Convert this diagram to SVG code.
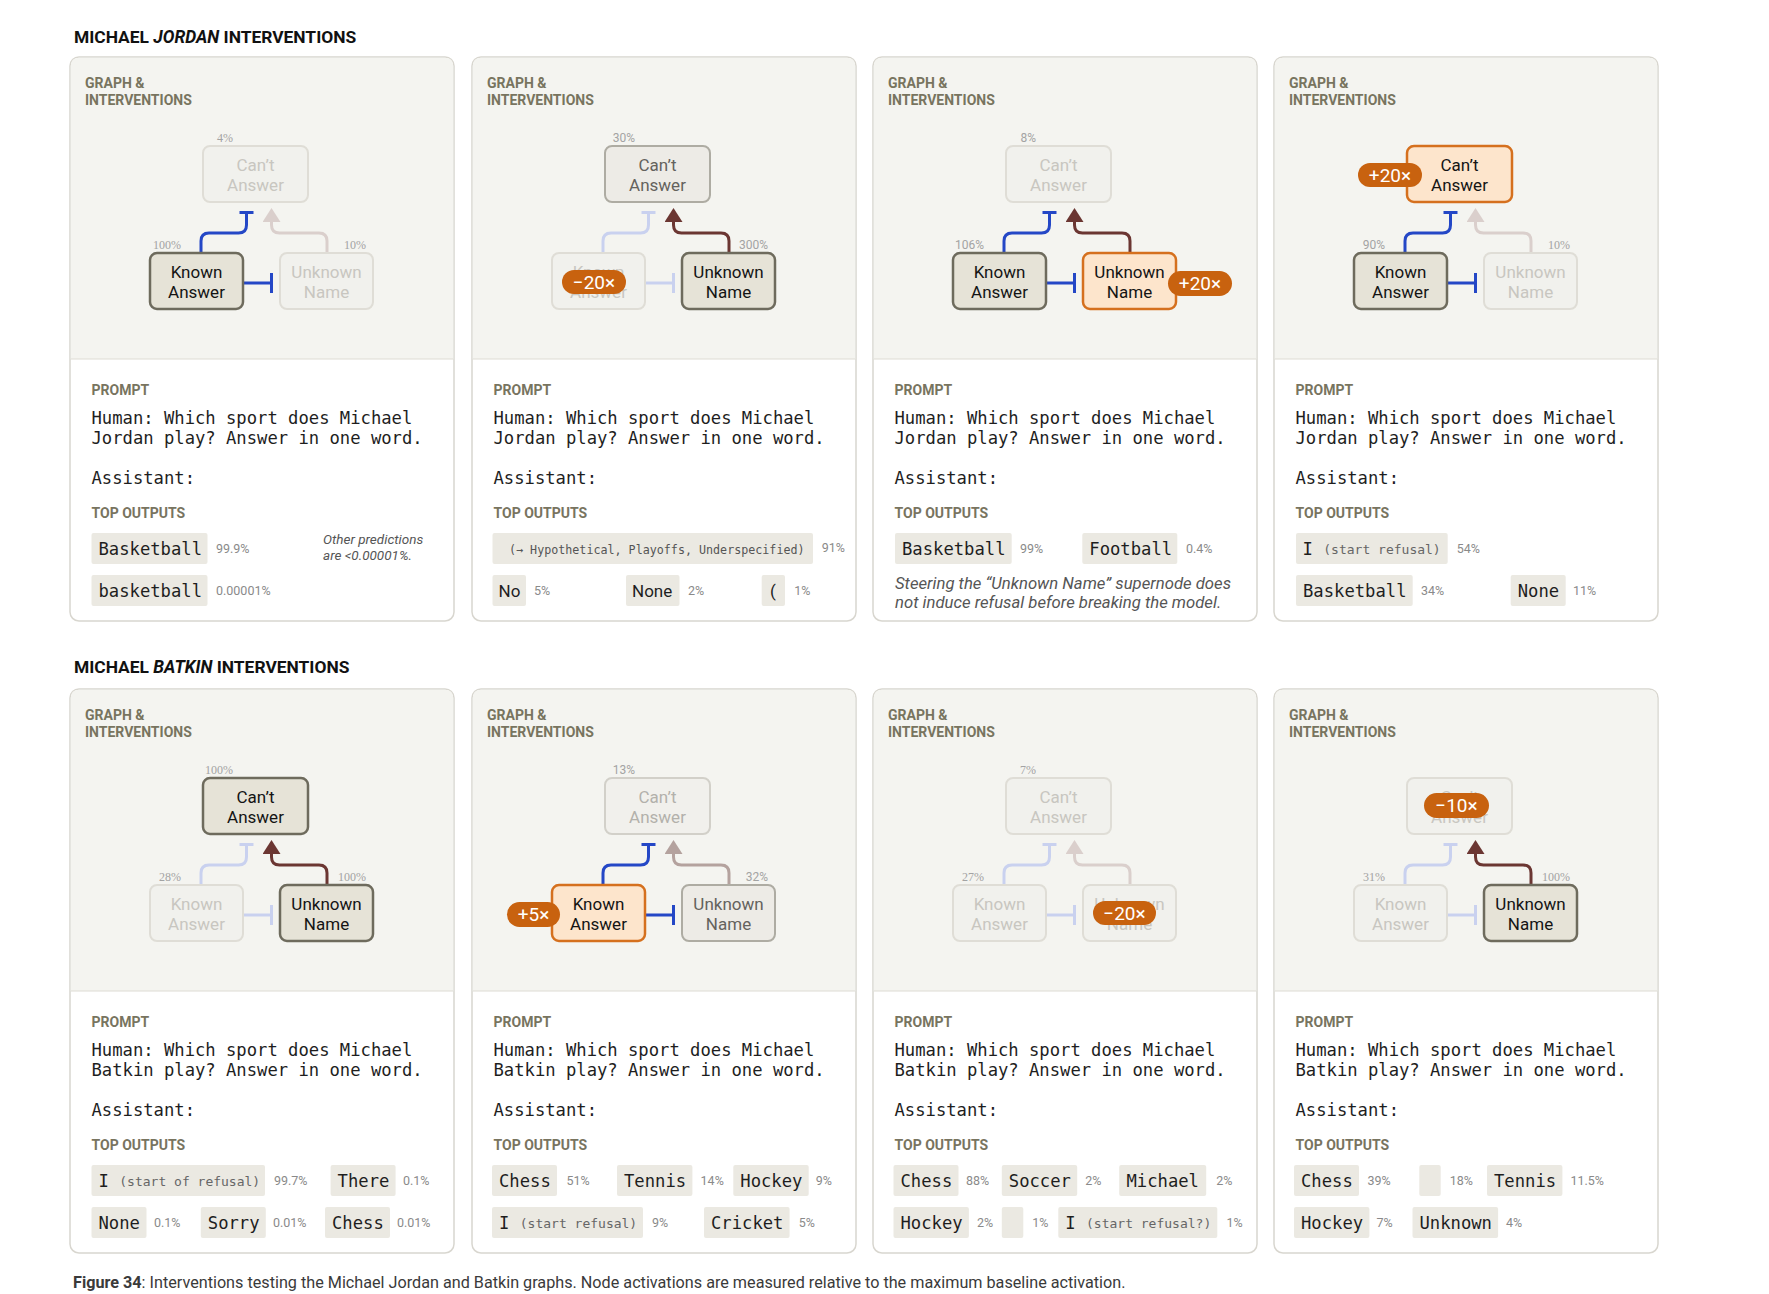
<svg xmlns="http://www.w3.org/2000/svg" width="1769" height="1294" viewBox="0 0 1769 1294">
<defs>
<style>
.title{font:700 17.4px Roboto,"Liberation Sans",sans-serif;fill:#111}
.cap{font:16.2px Roboto,"Liberation Sans",sans-serif;fill:#3a3a3a}
.card{fill:#fff;stroke:#d8d6cf;stroke-width:1.5}
.gbg{fill:#f4f4f0}
.dv{stroke:#dddbd4;stroke-width:1.2}
.hd{font:700 14px Roboto,"Liberation Sans",sans-serif;fill:#78745f}
.mono{font:17.2px "DejaVu Sans Mono","Liberation Mono",monospace;fill:#1e1e1e}
.sans{font:17px Roboto,"Liberation Sans",sans-serif;fill:#1e1e1e}
.sm{font:13px "DejaVu Sans Mono","Liberation Mono",monospace;fill:#666}
.xs{font:11.7px "DejaVu Sans Mono","Liberation Mono",monospace;fill:#555}
.chip{fill:#ebe9e2}
.pr{font:12.5px Roboto,"Liberation Sans",sans-serif;fill:#8a8a8a}
.note{font:italic 13.5px Roboto,"Liberation Sans",sans-serif;fill:#555}
.note2{font:italic 16.7px Roboto,"Liberation Sans",sans-serif;fill:#555}
.nt{font:17px Roboto,"Liberation Sans",sans-serif;text-anchor:middle}
.act rect{fill:#e6e3d7;stroke:#6e6b5d;stroke-width:2.5}
.act text{fill:#141414}
.fade rect{fill:#f1f1ed;stroke:#dfddd6;stroke-width:2}
.fade text{fill:#c8c6c0}
.mid rect{fill:#edebe6;stroke:#aeaca3;stroke-width:2}
.mid text{fill:#64625d}
.lite rect{fill:#f1f0ec;stroke:#d2d0c9;stroke-width:2}
.lite text{fill:#b3b1ab}
.or rect{fill:#fde5cc;stroke:#d5701e;stroke-width:2.5}
.or text{fill:#141414}
.badge rect{fill:#c8620f}
.badge text{font:19px Roboto,"Liberation Sans",sans-serif;fill:#fff;text-anchor:middle}
.pl{font:12px "Liberation Serif",serif;fill:#a3a3a3}
.ps{font:12px Roboto,"Liberation Sans",sans-serif;fill:#a3a3a3}
.e{fill:none;stroke-width:3}
.ba{stroke:#2447c6}
.bf{stroke:#c9d1ef}
.ra{stroke:#6b3632}
.rf{stroke:#dacfcc}
.rm{stroke:#b4a29e}
</style>
<marker id="ah-a" viewBox="0 -9 14 18" refX="0" refY="0" markerWidth="14" markerHeight="18" markerUnits="userSpaceOnUse" orient="auto"><path d="M0,-9L14,0L0,9Z" fill="#6b3632"/></marker>
<marker id="ah-f" viewBox="0 -9 14 18" refX="0" refY="0" markerWidth="14" markerHeight="18" markerUnits="userSpaceOnUse" orient="auto"><path d="M0,-9L14,0L0,9Z" fill="#dacfcc"/></marker>
<marker id="ah-m" viewBox="0 -9 14 18" refX="0" refY="0" markerWidth="14" markerHeight="18" markerUnits="userSpaceOnUse" orient="auto"><path d="M0,-9L14,0L0,9Z" fill="#b4a29e"/></marker>
</defs>
<rect width="1769" height="1294" fill="#fff"/>

<text class="title" x="74" y="43">MICHAEL <tspan font-style="italic">JORDAN</tspan> INTERVENTIONS</text>
<text class="title" x="74" y="673">MICHAEL <tspan font-style="italic">BATKIN</tspan> INTERVENTIONS</text>

<g id="cards">
<!-- J1 -->
<g transform="translate(70,57)">
<rect class="card" x="0" y="0" width="384" height="564" rx="9"/>
<path class="gbg" d="M0.75,302V9Q0.75,0.75 9,0.75H375Q383.25,0.75 383.25,9V302Z"/>
<line class="dv" x1="0.75" y1="302" x2="383.25" y2="302"/>
<text class="hd" x="15" y="30.7">GRAPH &amp;</text><text class="hd" x="15" y="48">INTERVENTIONS</text>
<text class="hd" x="21.5" y="338">PROMPT</text>
<text class="mono" x="21.5" y="367">Human: Which sport does Michael</text>
<text class="mono" x="21.5" y="386.5">Jordan play? Answer in one word.</text>
<text class="mono" x="21.5" y="426.5">Assistant:</text>
<text class="hd" x="21.5" y="461.3">TOP OUTPUTS</text>
<rect class="chip" x="21.5" y="476" width="116" height="31" rx="2"/><text class="mono" x="28.5" y="498">Basketball</text><text class="pr" x="146" y="495.5">99.9%</text>
<text class="note" x="253" y="487">Other predictions</text><text class="note" x="253" y="502.5">are &lt;0.00001%.</text>
<rect class="chip" x="21.5" y="518" width="116" height="31" rx="2"/><text class="mono" x="28.5" y="540">basketball</text><text class="pr" x="146" y="537.5">0.00001%</text>
</g>
<!-- J2 -->
<g transform="translate(472,57)">
<rect class="card" x="0" y="0" width="384" height="564" rx="9"/>
<path class="gbg" d="M0.75,302V9Q0.75,0.75 9,0.75H375Q383.25,0.75 383.25,9V302Z"/>
<line class="dv" x1="0.75" y1="302" x2="383.25" y2="302"/>
<text class="hd" x="15" y="30.7">GRAPH &amp;</text><text class="hd" x="15" y="48">INTERVENTIONS</text>
<text class="hd" x="21.5" y="338">PROMPT</text>
<text class="mono" x="21.5" y="367">Human: Which sport does Michael</text>
<text class="mono" x="21.5" y="386.5">Jordan play? Answer in one word.</text>
<text class="mono" x="21.5" y="426.5">Assistant:</text>
<text class="hd" x="21.5" y="461.3">TOP OUTPUTS</text>
<rect class="chip" x="20.5" y="476" width="320.5" height="31" rx="2"/><text class="xs" x="37" y="497">(→ Hypothetical, Playoffs, Underspecified)</text><text class="pr" x="349.7" y="494.7">91%</text>
<rect class="chip" x="20.5" y="518" width="33.5" height="31" rx="2"/><text class="sans" x="26.5" y="540">No</text><text class="pr" x="62" y="537.5">5%</text>
<rect class="chip" x="154" y="518" width="53.5" height="31" rx="2"/><text class="sans" x="160" y="540">None</text><text class="pr" x="216" y="537.5">2%</text>
<rect class="chip" x="289.7" y="518" width="23.3" height="31" rx="2"/><text class="sans" x="298" y="540">(</text><text class="pr" x="322.3" y="537.5">1%</text>
</g>
<!-- J3 -->
<g transform="translate(873,57)">
<rect class="card" x="0" y="0" width="384" height="564" rx="9"/>
<path class="gbg" d="M0.75,302V9Q0.75,0.75 9,0.75H375Q383.25,0.75 383.25,9V302Z"/>
<line class="dv" x1="0.75" y1="302" x2="383.25" y2="302"/>
<text class="hd" x="15" y="30.7">GRAPH &amp;</text><text class="hd" x="15" y="48">INTERVENTIONS</text>
<text class="hd" x="21.5" y="338">PROMPT</text>
<text class="mono" x="21.5" y="367">Human: Which sport does Michael</text>
<text class="mono" x="21.5" y="386.5">Jordan play? Answer in one word.</text>
<text class="mono" x="21.5" y="426.5">Assistant:</text>
<text class="hd" x="21.5" y="461.3">TOP OUTPUTS</text>
<rect class="chip" x="22" y="476" width="116.7" height="31" rx="2"/><text class="mono" x="29" y="498">Basketball</text><text class="pr" x="147" y="495.5">99%</text>
<rect class="chip" x="209.3" y="476" width="95" height="31" rx="2"/><text class="mono" x="216.3" y="498">Football</text><text class="pr" x="313" y="495.5">0.4%</text>
<text class="note2" x="22" y="531.5">Steering the “Unknown Name” supernode does</text>
<text class="note2" x="22" y="550.5">not induce refusal before breaking the model.</text>
</g>
<!-- J4 -->
<g transform="translate(1274,57)">
<rect class="card" x="0" y="0" width="384" height="564" rx="9"/>
<path class="gbg" d="M0.75,302V9Q0.75,0.75 9,0.75H375Q383.25,0.75 383.25,9V302Z"/>
<line class="dv" x1="0.75" y1="302" x2="383.25" y2="302"/>
<text class="hd" x="15" y="30.7">GRAPH &amp;</text><text class="hd" x="15" y="48">INTERVENTIONS</text>
<text class="hd" x="21.5" y="338">PROMPT</text>
<text class="mono" x="21.5" y="367">Human: Which sport does Michael</text>
<text class="mono" x="21.5" y="386.5">Jordan play? Answer in one word.</text>
<text class="mono" x="21.5" y="426.5">Assistant:</text>
<text class="hd" x="21.5" y="461.3">TOP OUTPUTS</text>
<rect class="chip" x="22" y="476" width="151.7" height="31" rx="2"/><text class="mono" x="28.5" y="498">I</text><text class="sm" x="49.3" y="497">(start refusal)</text><text class="pr" x="182.7" y="495.5">54%</text>
<rect class="chip" x="22" y="518" width="116.7" height="31" rx="2"/><text class="mono" x="29" y="540">Basketball</text><text class="pr" x="147" y="537.5">34%</text>
<rect class="chip" x="236.7" y="518" width="55" height="31" rx="2"/><text class="mono" x="243.7" y="540">None</text><text class="pr" x="299" y="537.5">11%</text>
</g>
<!-- B1 -->
<g transform="translate(70,689)">
<rect class="card" x="0" y="0" width="384" height="564" rx="9"/>
<path class="gbg" d="M0.75,302V9Q0.75,0.75 9,0.75H375Q383.25,0.75 383.25,9V302Z"/>
<line class="dv" x1="0.75" y1="302" x2="383.25" y2="302"/>
<text class="hd" x="15" y="30.7">GRAPH &amp;</text><text class="hd" x="15" y="48">INTERVENTIONS</text>
<text class="hd" x="21.5" y="338">PROMPT</text>
<text class="mono" x="21.5" y="367">Human: Which sport does Michael</text>
<text class="mono" x="21.5" y="386.5">Batkin play? Answer in one word.</text>
<text class="mono" x="21.5" y="426.5">Assistant:</text>
<text class="hd" x="21.5" y="461.3">TOP OUTPUTS</text>
<rect class="chip" x="21.5" y="476" width="173.5" height="31" rx="2"/><text class="mono" x="28.5" y="498">I</text><text class="sm" x="49.3" y="497">(start of refusal)</text><text class="pr" x="204" y="495.5">99.7%</text>
<rect class="chip" x="260.6" y="476" width="65" height="31" rx="2"/><text class="mono" x="267.6" y="498">There</text><text class="pr" x="333" y="495.5">0.1%</text>
<rect class="chip" x="21.5" y="518" width="55" height="31" rx="2"/><text class="mono" x="28.5" y="540">None</text><text class="pr" x="84" y="537.5">0.1%</text>
<rect class="chip" x="130.8" y="518" width="65" height="31" rx="2"/><text class="mono" x="137.8" y="540">Sorry</text><text class="pr" x="203" y="537.5">0.01%</text>
<rect class="chip" x="255" y="518" width="65" height="31" rx="2"/><text class="mono" x="262" y="540">Chess</text><text class="pr" x="327" y="537.5">0.01%</text>
</g>
<!-- B2 -->
<g transform="translate(472,689)">
<rect class="card" x="0" y="0" width="384" height="564" rx="9"/>
<path class="gbg" d="M0.75,302V9Q0.75,0.75 9,0.75H375Q383.25,0.75 383.25,9V302Z"/>
<line class="dv" x1="0.75" y1="302" x2="383.25" y2="302"/>
<text class="hd" x="15" y="30.7">GRAPH &amp;</text><text class="hd" x="15" y="48">INTERVENTIONS</text>
<text class="hd" x="21.5" y="338">PROMPT</text>
<text class="mono" x="21.5" y="367">Human: Which sport does Michael</text>
<text class="mono" x="21.5" y="386.5">Batkin play? Answer in one word.</text>
<text class="mono" x="21.5" y="426.5">Assistant:</text>
<text class="hd" x="21.5" y="461.3">TOP OUTPUTS</text>
<rect class="chip" x="20" y="476" width="65" height="31" rx="2"/><text class="mono" x="27" y="498">Chess</text><text class="pr" x="94.4" y="495.5">51%</text>
<rect class="chip" x="145" y="476" width="75.4" height="31" rx="2"/><text class="mono" x="152" y="498">Tennis</text><text class="pr" x="228.6" y="495.5">14%</text>
<rect class="chip" x="261.3" y="476" width="75.4" height="31" rx="2"/><text class="mono" x="268.3" y="498">Hockey</text><text class="pr" x="343.7" y="495.5">9%</text>
<rect class="chip" x="20" y="518" width="151" height="31" rx="2"/><text class="mono" x="27" y="540">I</text><text class="sm" x="47.8" y="539">(start refusal)</text><text class="pr" x="180" y="537.5">9%</text>
<rect class="chip" x="232" y="518" width="85.6" height="31" rx="2"/><text class="mono" x="239" y="540">Cricket</text><text class="pr" x="326.8" y="537.5">5%</text>
</g>
<!-- B3 -->
<g transform="translate(873,689)">
<rect class="card" x="0" y="0" width="384" height="564" rx="9"/>
<path class="gbg" d="M0.75,302V9Q0.75,0.75 9,0.75H375Q383.25,0.75 383.25,9V302Z"/>
<line class="dv" x1="0.75" y1="302" x2="383.25" y2="302"/>
<text class="hd" x="15" y="30.7">GRAPH &amp;</text><text class="hd" x="15" y="48">INTERVENTIONS</text>
<text class="hd" x="21.5" y="338">PROMPT</text>
<text class="mono" x="21.5" y="367">Human: Which sport does Michael</text>
<text class="mono" x="21.5" y="386.5">Batkin play? Answer in one word.</text>
<text class="mono" x="21.5" y="426.5">Assistant:</text>
<text class="hd" x="21.5" y="461.3">TOP OUTPUTS</text>
<rect class="chip" x="20.5" y="476" width="65" height="31" rx="2"/><text class="mono" x="27.5" y="498">Chess</text><text class="pr" x="93" y="495.5">88%</text>
<rect class="chip" x="128.8" y="476" width="75.4" height="31" rx="2"/><text class="mono" x="135.8" y="498">Soccer</text><text class="pr" x="212.3" y="495.5">2%</text>
<rect class="chip" x="246.2" y="476" width="87" height="31" rx="2"/><text class="mono" x="253.5" y="498">Michael</text><text class="pr" x="343.2" y="495.5">2%</text>
<rect class="chip" x="20.5" y="518" width="75.4" height="31" rx="2"/><text class="mono" x="27.5" y="540">Hockey</text><text class="pr" x="104" y="537.5">2%</text>
<rect class="chip" x="128.8" y="518" width="21.5" height="31" rx="2"/><text class="pr" x="159.3" y="537.5">1%</text>
<rect class="chip" x="185.3" y="518" width="159" height="31" rx="2"/><text class="mono" x="192.3" y="540">I</text><text class="sm" x="213" y="539">(start refusal?)</text><text class="pr" x="353.4" y="537.5">1%</text>
</g>
<!-- B4 -->
<g transform="translate(1274,689)">
<rect class="card" x="0" y="0" width="384" height="564" rx="9"/>
<path class="gbg" d="M0.75,302V9Q0.75,0.75 9,0.75H375Q383.25,0.75 383.25,9V302Z"/>
<line class="dv" x1="0.75" y1="302" x2="383.25" y2="302"/>
<text class="hd" x="15" y="30.7">GRAPH &amp;</text><text class="hd" x="15" y="48">INTERVENTIONS</text>
<text class="hd" x="21.5" y="338">PROMPT</text>
<text class="mono" x="21.5" y="367">Human: Which sport does Michael</text>
<text class="mono" x="21.5" y="386.5">Batkin play? Answer in one word.</text>
<text class="mono" x="21.5" y="426.5">Assistant:</text>
<text class="hd" x="21.5" y="461.3">TOP OUTPUTS</text>
<rect class="chip" x="20" y="476" width="65" height="31" rx="2"/><text class="mono" x="27" y="498">Chess</text><text class="pr" x="93.4" y="495.5">39%</text>
<rect class="chip" x="145.3" y="476" width="21.4" height="31" rx="2"/><text class="pr" x="175.7" y="495.5">18%</text>
<rect class="chip" x="213" y="476" width="75.4" height="31" rx="2"/><text class="mono" x="220" y="498">Tennis</text><text class="pr" x="296.5" y="495.5">11.5%</text>
<rect class="chip" x="20" y="518" width="75.4" height="31" rx="2"/><text class="mono" x="27" y="540">Hockey</text><text class="pr" x="102.4" y="537.5">7%</text>
<rect class="chip" x="138.5" y="518" width="85.6" height="31" rx="2"/><text class="mono" x="145.5" y="540">Unknown</text><text class="pr" x="232" y="537.5">4%</text>
</g>
</g>

<g id="connectors">
<g transform="translate(70,57)">
<path class="e ba" d="M131,196V184Q131,176 139,176H168.5Q176.5,176 176.5,168V155.5M169.5,155.5H183.5"/>
<path class="e ba" d="M173,226H201.5M201.5,216V236"/>
<path class="e rf" marker-end="url(#ah-f)" d="M257,196V184Q257,176 249,176H209.5Q201.5,176 201.5,168V165"/>
</g>
<g transform="translate(472,57)">
<path class="e bf" d="M131,196V184Q131,176 139,176H168.5Q176.5,176 176.5,168V155.5M169.5,155.5H183.5"/>
<path class="e bf" d="M173,226H201.5M201.5,216V236"/>
<path class="e ra" marker-end="url(#ah-a)" d="M257,196V184Q257,176 249,176H209.5Q201.5,176 201.5,168V165"/>
</g>
<g transform="translate(873,57)">
<path class="e ba" d="M131,196V184Q131,176 139,176H168.5Q176.5,176 176.5,168V155.5M169.5,155.5H183.5"/>
<path class="e ba" d="M173,226H201.5M201.5,216V236"/>
<path class="e ra" marker-end="url(#ah-a)" d="M257,196V184Q257,176 249,176H209.5Q201.5,176 201.5,168V165"/>
</g>
<g transform="translate(1274,57)">
<path class="e ba" d="M131,196V184Q131,176 139,176H168.5Q176.5,176 176.5,168V155.5M169.5,155.5H183.5"/>
<path class="e ba" d="M173,226H201.5M201.5,216V236"/>
<path class="e rf" marker-end="url(#ah-f)" d="M257,196V184Q257,176 249,176H209.5Q201.5,176 201.5,168V165"/>
</g>
<g transform="translate(70,689)">
<path class="e bf" d="M131,196V184Q131,176 139,176H168.5Q176.5,176 176.5,168V155.5M169.5,155.5H183.5"/>
<path class="e bf" d="M173,226H201.5M201.5,216V236"/>
<path class="e ra" marker-end="url(#ah-a)" d="M257,196V184Q257,176 249,176H209.5Q201.5,176 201.5,168V165"/>
</g>
<g transform="translate(472,689)">
<path class="e ba" d="M131,196V184Q131,176 139,176H168.5Q176.5,176 176.5,168V155.5M169.5,155.5H183.5"/>
<path class="e ba" d="M173,226H201.5M201.5,216V236"/>
<path class="e rm" marker-end="url(#ah-m)" d="M257,196V184Q257,176 249,176H209.5Q201.5,176 201.5,168V165"/>
</g>
<g transform="translate(873,689)">
<path class="e bf" d="M131,196V184Q131,176 139,176H168.5Q176.5,176 176.5,168V155.5M169.5,155.5H183.5"/>
<path class="e bf" d="M173,226H201.5M201.5,216V236"/>
<path class="e rf" marker-end="url(#ah-f)" d="M257,196V184Q257,176 249,176H209.5Q201.5,176 201.5,168V165"/>
</g>
<g transform="translate(1274,689)">
<path class="e bf" d="M131,196V184Q131,176 139,176H168.5Q176.5,176 176.5,168V155.5M169.5,155.5H183.5"/>
<path class="e bf" d="M173,226H201.5M201.5,216V236"/>
<path class="e ra" marker-end="url(#ah-a)" d="M257,196V184Q257,176 249,176H209.5Q201.5,176 201.5,168V165"/>
</g>
</g>

<g id="nodes">
<!-- J1 -->
<g transform="translate(70,57)">
<g id="j1-cant"><g class="fade"><rect x="133" y="89" width="105" height="56" rx="7"/><text class="nt"><tspan x="185.5" y="113.5">Can’t</tspan><tspan x="185.5" y="133.5">Answer</tspan></text></g><text class="pl" x="163" y="85" text-anchor="end">4%</text></g>
<g id="j1-known"><g class="act"><rect x="80" y="196" width="93" height="56" rx="7"/><text class="nt"><tspan x="126.5" y="220.5">Known</tspan><tspan x="126.5" y="240.5">Answer</tspan></text></g><text class="pl" x="111" y="192" text-anchor="end">100%</text></g>
<g id="j1-unknown"><g class="fade"><rect x="210" y="196" width="93" height="56" rx="7"/><text class="nt"><tspan x="256.5" y="220.5">Unknown</tspan><tspan x="256.5" y="240.5">Name</tspan></text></g><text class="pl" x="296" y="192" text-anchor="end">10%</text></g>
</g>
<!-- J2 -->
<g transform="translate(472,57)">
<g id="j2-cant"><g class="mid"><rect x="133" y="89" width="105" height="56" rx="7"/><text class="nt"><tspan x="185.5" y="113.5">Can’t</tspan><tspan x="185.5" y="133.5">Answer</tspan></text></g><text class="ps" x="163" y="85" text-anchor="end">30%</text></g>
<g id="j2-known"><g class="fade"><rect x="80" y="196" width="93" height="56" rx="7"/><text class="nt"><tspan x="126.5" y="220.5">Known</tspan><tspan x="126.5" y="240.5">Answer</tspan></text></g><g class="badge"><rect x="90" y="213" width="64" height="24" rx="12"/><text x="122" y="231.5">−20×</text></g></g>
<g id="j2-unknown"><g class="act"><rect x="210" y="196" width="93" height="56" rx="7"/><text class="nt"><tspan x="256.5" y="220.5">Unknown</tspan><tspan x="256.5" y="240.5">Name</tspan></text></g><text class="ps" x="296" y="192" text-anchor="end">300%</text></g>
</g>
<!-- J3 -->
<g transform="translate(873,57)">
<g id="j3-cant"><g class="fade"><rect x="133" y="89" width="105" height="56" rx="7"/><text class="nt"><tspan x="185.5" y="113.5">Can’t</tspan><tspan x="185.5" y="133.5">Answer</tspan></text></g><text class="ps" x="163" y="85" text-anchor="end">8%</text></g>
<g id="j3-known"><g class="act"><rect x="80" y="196" width="93" height="56" rx="7"/><text class="nt"><tspan x="126.5" y="220.5">Known</tspan><tspan x="126.5" y="240.5">Answer</tspan></text></g><text class="ps" x="111" y="192" text-anchor="end">106%</text></g>
<g id="j3-unknown"><g class="or"><rect x="210" y="196" width="93" height="56" rx="7"/><text class="nt"><tspan x="256.5" y="220.5">Unknown</tspan><tspan x="256.5" y="240.5">Name</tspan></text></g><g class="badge"><rect x="295" y="214" width="64" height="25" rx="12.5"/><text x="327" y="233">+20×</text></g></g>
</g>
<!-- J4 -->
<g transform="translate(1274,57)">
<g id="j4-cant"><g class="or"><rect x="133" y="89" width="105" height="56" rx="7"/><text class="nt"><tspan x="185.5" y="113.5">Can’t</tspan><tspan x="185.5" y="133.5">Answer</tspan></text></g><g class="badge"><rect x="84" y="106" width="64" height="24" rx="12"/><text x="116" y="124.5">+20×</text></g></g>
<g id="j4-known"><g class="act"><rect x="80" y="196" width="93" height="56" rx="7"/><text class="nt"><tspan x="126.5" y="220.5">Known</tspan><tspan x="126.5" y="240.5">Answer</tspan></text></g><text class="ps" x="111" y="192" text-anchor="end">90%</text></g>
<g id="j4-unknown"><g class="fade"><rect x="210" y="196" width="93" height="56" rx="7"/><text class="nt"><tspan x="256.5" y="220.5">Unknown</tspan><tspan x="256.5" y="240.5">Name</tspan></text></g><text class="pl" x="296" y="192" text-anchor="end">10%</text></g>
</g>
<!-- B1 -->
<g transform="translate(70,689)">
<g id="b1-cant"><g class="act"><rect x="133" y="89" width="105" height="56" rx="7"/><text class="nt"><tspan x="185.5" y="113.5">Can’t</tspan><tspan x="185.5" y="133.5">Answer</tspan></text></g><text class="pl" x="163" y="85" text-anchor="end">100%</text></g>
<g id="b1-known"><g class="fade"><rect x="80" y="196" width="93" height="56" rx="7"/><text class="nt"><tspan x="126.5" y="220.5">Known</tspan><tspan x="126.5" y="240.5">Answer</tspan></text></g><text class="pl" x="111" y="192" text-anchor="end">28%</text></g>
<g id="b1-unknown"><g class="act"><rect x="210" y="196" width="93" height="56" rx="7"/><text class="nt"><tspan x="256.5" y="220.5">Unknown</tspan><tspan x="256.5" y="240.5">Name</tspan></text></g><text class="pl" x="296" y="192" text-anchor="end">100%</text></g>
</g>
<!-- B2 -->
<g transform="translate(472,689)">
<g id="b2-cant"><g class="lite"><rect x="133" y="89" width="105" height="56" rx="7"/><text class="nt"><tspan x="185.5" y="113.5">Can’t</tspan><tspan x="185.5" y="133.5">Answer</tspan></text></g><text class="ps" x="163" y="85" text-anchor="end">13%</text></g>
<g id="b2-known"><g class="or"><rect x="80" y="196" width="93" height="56" rx="7"/><text class="nt"><tspan x="126.5" y="220.5">Known</tspan><tspan x="126.5" y="240.5">Answer</tspan></text></g><g class="badge"><rect x="35" y="213" width="53" height="25" rx="12.5"/><text x="61.5" y="232">+5×</text></g></g>
<g id="b2-unknown"><g class="mid"><rect x="210" y="196" width="93" height="56" rx="7"/><text class="nt"><tspan x="256.5" y="220.5">Unknown</tspan><tspan x="256.5" y="240.5">Name</tspan></text></g><text class="ps" x="296" y="192" text-anchor="end">32%</text></g>
</g>
<!-- B3 -->
<g transform="translate(873,689)">
<g id="b3-cant"><g class="fade"><rect x="133" y="89" width="105" height="56" rx="7"/><text class="nt"><tspan x="185.5" y="113.5">Can’t</tspan><tspan x="185.5" y="133.5">Answer</tspan></text></g><text class="pl" x="163" y="85" text-anchor="end">7%</text></g>
<g id="b3-known"><g class="fade"><rect x="80" y="196" width="93" height="56" rx="7"/><text class="nt"><tspan x="126.5" y="220.5">Known</tspan><tspan x="126.5" y="240.5">Answer</tspan></text></g><text class="pl" x="111" y="192" text-anchor="end">27%</text></g>
<g id="b3-unknown"><g class="fade"><rect x="210" y="196" width="93" height="56" rx="7"/><text class="nt"><tspan x="256.5" y="220.5">Unknown</tspan><tspan x="256.5" y="240.5">Name</tspan></text></g><g class="badge"><rect x="220" y="212" width="63" height="24" rx="12"/><text x="251.5" y="230.5">−20×</text></g></g>
</g>
<!-- B4 -->
<g transform="translate(1274,689)">
<g id="b4-cant"><g class="fade"><rect x="133" y="89" width="105" height="56" rx="7"/><text class="nt"><tspan x="185.5" y="113.5">Can’t</tspan><tspan x="185.5" y="133.5">Answer</tspan></text></g><g class="badge"><rect x="150" y="104" width="65" height="25" rx="12.5"/><text x="182.5" y="123">−10×</text></g></g>
<g id="b4-known"><g class="fade"><rect x="80" y="196" width="93" height="56" rx="7"/><text class="nt"><tspan x="126.5" y="220.5">Known</tspan><tspan x="126.5" y="240.5">Answer</tspan></text></g><text class="pl" x="111" y="192" text-anchor="end">31%</text></g>
<g id="b4-unknown"><g class="act"><rect x="210" y="196" width="93" height="56" rx="7"/><text class="nt"><tspan x="256.5" y="220.5">Unknown</tspan><tspan x="256.5" y="240.5">Name</tspan></text></g><text class="pl" x="296" y="192" text-anchor="end">100%</text></g>
</g>
</g>

<text class="cap" x="73" y="1288"><tspan font-weight="700">Figure 34</tspan>: Interventions testing the Michael Jordan and Batkin graphs. Node activations are measured relative to the maximum baseline activation.</text>
</svg>
